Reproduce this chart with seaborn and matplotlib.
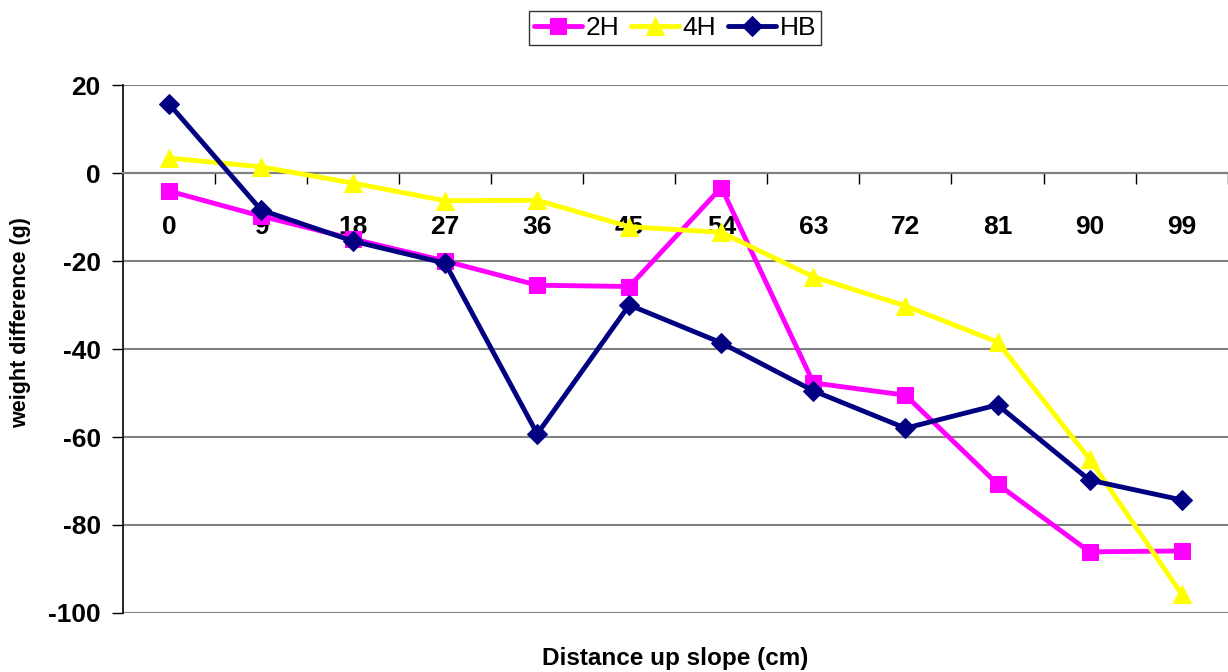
import matplotlib
matplotlib.use("Agg")
import matplotlib.pyplot as plt
import seaborn as sns
import pandas as pd
import numpy as np

# Distance categories (cm) and weight differences (g) per treatment
distances = ["0", "9", "18", "27", "36", "45", "54", "63", "72", "81", "90", "99"]
w_2h = [-4.1, -9.8, -15.0, -20.0, -25.5, -25.8, -3.3, -47.7, -50.5, -70.7, -86.1, -85.9]
w_4h = [3.4, 1.4, -2.3, -6.3, -6.2, -12.2, -13.5, -23.6, -30.2, -38.4, -65.0, -95.7]
w_hb = [15.7, -8.4, -15.5, -20.5, -59.3, -30.0, -38.6, -49.5, -58.0, -52.7, -69.8, -74.3]

series = {"2H": w_2h, "4H": w_4h, "HB": w_hb}
colors = {"2H": "#FF00FF", "4H": "#FFFF00", "HB": "#000080"}
markers = {"2H": "s", "4H": "^", "HB": "D"}
msizes = {"2H": 12, "4H": 12.5, "HB": 10}

rows = []
for name, vals in series.items():
    for i, v in enumerate(vals):
        rows.append({"pos": i, "weight": v, "series": name})
df = pd.DataFrame(rows)

sns.set_theme(style="white")
plt.rcParams["font.family"] = ["Liberation Sans", "DejaVu Sans"]
plt.rcParams.update({"text.color": "black", "axes.labelcolor": "black",
                     "xtick.color": "black", "ytick.color": "black"})

fig = plt.figure(figsize=(12.28, 6.72), dpi=100)
ax = fig.add_axes([0.1002, 0.0878, 0.8995, 0.7857])

for name in series:
    sub = df[df["series"] == name]
    sns.lineplot(data=sub, x="pos", y="weight", ax=ax, color=colors[name],
                 marker=markers[name], markersize=msizes[name],
                 markeredgecolor=colors[name], linewidth=3.5,
                 label=name, zorder=3)

ax.set_xlim(-0.5, len(distances) - 0.5)
ax.set_ylim(-100, 20)

# Horizontal gridlines
yt = np.arange(-100, 21, 20)
ax.set_yticks(yt)
ax.set_yticklabels([f"{v:d}" for v in yt], fontsize=19, fontweight="bold",
                   color="black")
for v in yt:
    ax.axhline(v, color="#808080", linewidth=1.5, zorder=1)

# Spines: left axis black, category axis crossing at zero
for s in ["top", "right"]:
    ax.spines[s].set_visible(False)
ax.spines["left"].set_color("black")
ax.spines["left"].set_linewidth(1.2)
ax.spines["bottom"].set_position(("data", 0))
ax.spines["bottom"].set_color("#808080")
ax.spines["bottom"].set_linewidth(1.5)

ax.tick_params(axis="y", which="major", direction="out", length=8,
               width=1, color="black", pad=8, left=True)
ax.set_xticks(np.arange(len(distances)))
ax.set_xticklabels(distances, fontsize=19, fontweight="bold", color="black")
ax.set_xticks(np.arange(len(distances)) + 0.5, minor=True)
ax.tick_params(axis="x", which="major", length=0, pad=30, bottom=True)
ax.tick_params(axis="x", which="minor", direction="out", length=8,
               width=1, color="black", bottom=True)

ax.set_xlabel("")
ax.set_ylabel("")
fig.text(0.55, 0.02, "Distance up slope (cm)", ha="center", va="center",
         fontsize=17.5, fontweight="bold", color="black")
fig.text(0.017, 0.52, "weight difference (g)", ha="center", va="center",
         rotation=90, fontsize=15.5, fontweight="bold", color="black")

leg = ax.legend(loc="center", bbox_to_anchor=(675 / 1228, 1 - 28 / 672),
                bbox_transform=fig.transFigure, ncol=3, fontsize=19,
                frameon=True, fancybox=False, handlelength=1.8,
                handletextpad=0.15, columnspacing=0.45, borderpad=0.2,
                borderaxespad=0)
leg.get_frame().set_edgecolor("black")
leg.get_frame().set_linewidth(1.0)
for t in leg.get_texts():
    t.set_color("black")

fig.savefig("out.png", dpi=100)
